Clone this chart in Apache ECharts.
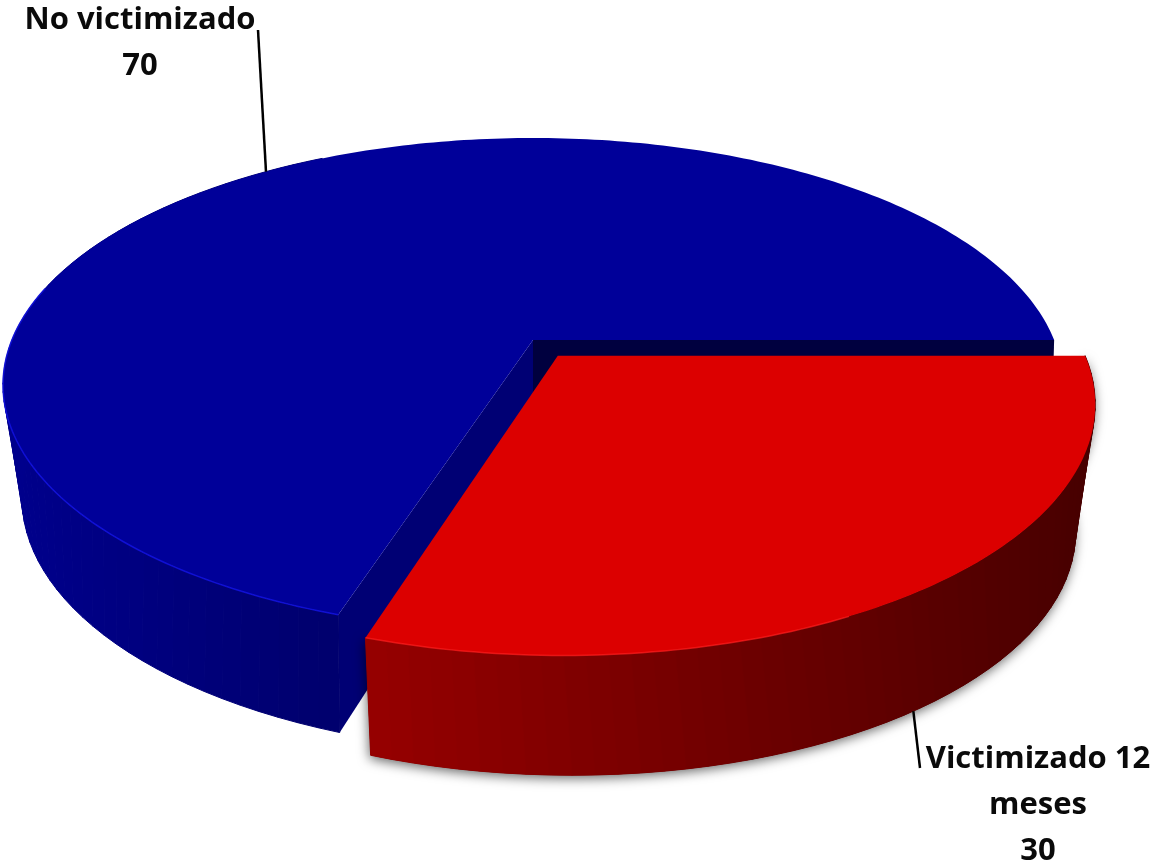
<!DOCTYPE html>
<html><head><meta charset="utf-8">
<style>html,body{margin:0;padding:0;background:#fff}#c{width:1153px;height:865px}</style>
<script src="https://cdn.jsdelivr.net/npm/echarts@6/dist/echarts.min.js"></script>
</head><body><div id="c"></div>
<script>
var categories = ['No victimizado', 'Victimizado 12\nmeses'];
var values = [70, 30];
var explode = [0, 0.08];
var topColors = ['#000099', '#dc0000'];
var wallFrom = [[0, 0, 140], [150, 0, 0]];
var wallTo = [[0, 0, 108], [72, 0, 0]];
var wallRange = [[5, 345], [367, 1085]];
var rimColors = ['rgba(20,20,235,0.75)', 'rgba(255,30,30,0.7)'];
var rimSpan = [85, 45];
var labelPos = [[140, -3], [1038, 736]];
var leaderEnd = [[258, 30], [920, 768]];
var leaderShift = [0, 2.8];

var TOP = {cx: 533, cy: 385, rx: 530, ry: 247, c: -0.182};
var BOTTOMS = [
  {cx: 545, cy: 498, rx: 523, ry: 255, c: -0.25},
  {cx: 541, cy: 511, rx: 501, ry: 238, c: -0.25}
];
var leaderPlane = [TOP, BOTTOMS[1]];
var START_ANGLE = 108, STEP = 2, FONT = '"Open Sans"';

function proj(u, v, e) {
  var s = Math.sqrt(1 - e.c * e.c), d = 1 + e.c * v;
  return [e.cx + e.rx * u * s / d, e.cy + e.ry * (v + e.c) / d];
}
function pt(deg, r, off, e) {
  var a = deg * Math.PI / 180;
  return proj(off[0] + r * Math.cos(a), off[1] + r * Math.sin(a), e);
}
function arc(a0, a1, off, e) {
  var out = [], n = Math.max(2, Math.ceil(Math.abs(a1 - a0) / 1));
  for (var i = 0; i <= n; i++) out.push(pt(a0 + (a1 - a0) * i / n, 1, off, e));
  return out;
}
function mix(idx, x) {
  var r = wallRange[idx], t = Math.min(1, Math.max(0, (x - r[0]) / (r[1] - r[0])));
  var a = wallFrom[idx], b = wallTo[idx];
  return 'rgb(' + [0, 1, 2].map(function (k) { return Math.round(a[k] + (b[k] - a[k]) * t); }).join(',') + ')';
}
var total = values.reduce(function (s, v) { return s + v; }, 0);

function renderItem(params, api) {
  var idx = params.dataIndex, before = 0;
  for (var i = 0; i < idx; i++) before += values[i];
  var v = api.value(0);
  var a0 = START_ANGLE + before / total * 360, a1 = a0 + v / total * 360, mid = (a0 + a1) / 2;
  var m = mid * Math.PI / 180, off = [explode[idx] * Math.cos(m), explode[idx] * Math.sin(m)];
  var BOTTOM = BOTTOMS[idx];
  var kids = [];

  // Shadow under the exploded slice's wall
  if (explode[idx] > 0) {
    var botArc = arc(a0, a1, off, BOTTOM), topArc = arc(a0, a1, off, TOP).reverse();
    kids.push({type: 'polygon', silent: true, shape: {points: botArc.concat(topArc)},
      style: {fill: '#600000', shadowBlur: 12, shadowColor: 'rgba(0,0,0,0.6)', shadowOffsetX: -1, shadowOffsetY: 3}});
  }
  // Cut faces
  if (explode[idx] === 0) {
    var apexT = pt(0, 0, off, TOP), apexB = [apexT[0], pt(0, 0, off, BOTTOM)[1]];
    kids.push({type: 'polygon', silent: true,
      shape: {points: [apexT, pt(a1, 1, off, TOP), pt(a1, 1, off, BOTTOM), apexB]}, style: {fill: '#00003f'}});
    kids.push({type: 'polygon', silent: true,
      shape: {points: [apexT, pt(a0, 1, off, TOP), pt(a0, 1, off, BOTTOM), apexB]}, style: {fill: '#000074'}});
  }
  // Outer wall, banded along x
  for (var a = a0; a < a1; a += STEP) {
    var b = Math.min(a1, a + STEP);
    var q = [pt(a, 1, off, TOP), pt(b, 1, off, TOP), pt(b, 1, off, BOTTOM), pt(a, 1, off, BOTTOM)];
    var c = mix(idx, (q[0][0] + q[1][0]) / 2);
    var lb = Math.sin(a * Math.PI / 180) < -0.3;
    if (lb && Math.cos(a * Math.PI / 180) > -0.5) continue;
    if (idx === 0 && a > 340) continue;
    kids.push({type: 'polygon', silent: true, shape: {points: q}, style: {fill: c, stroke: c, lineWidth: 1}});
  }
  // Top face
  var top = arc(a0, a1, off, TOP);
  top.push(pt(0, 0, off, TOP));
  kids.push({type: 'polygon', silent: true, shape: {points: top}, style: {fill: topColors[idx]}});
  // Bright rim along the front edge
  kids.push({type: 'polyline', silent: true,
    shape: {points: idx === 0 ? arc(a0, a0 + rimSpan[idx], off, TOP) : arc(a1, a1 - rimSpan[idx], off, TOP)},
    style: {fill: null, stroke: rimColors[idx], lineWidth: 1.5}});
  // Leader line
  var anchor = pt(mid + leaderShift[idx], 1, off, leaderPlane[idx]);
  kids.push({type: 'line', silent: true,
    shape: {x1: anchor[0], y1: anchor[1], x2: leaderEnd[idx][0], y2: leaderEnd[idx][1]},
    style: {stroke: '#000', lineWidth: 2.5}});
  // Label
  kids.push({type: 'text', silent: true, style: {
    x: labelPos[idx][0], y: labelPos[idx][1],
    text: categories[idx] + '\n' + v,
    fontFamily: FONT, fontWeight: 'bold', fontSize: 31, lineHeight: 46,
    fill: '#0a0a0a', align: 'center', verticalAlign: 'top'}});
  return {type: 'group', children: kids};
}

var chart = echarts.init(document.getElementById('c'), null, {renderer: 'canvas'});
chart.setOption({
  animation: false,
  backgroundColor: '#fff',
  series: [{
    type: 'custom',
    coordinateSystem: 'none',
    renderItem: renderItem,
    data: values.map(function (v) { return [v]; })
  }]
});
</script></body></html>
